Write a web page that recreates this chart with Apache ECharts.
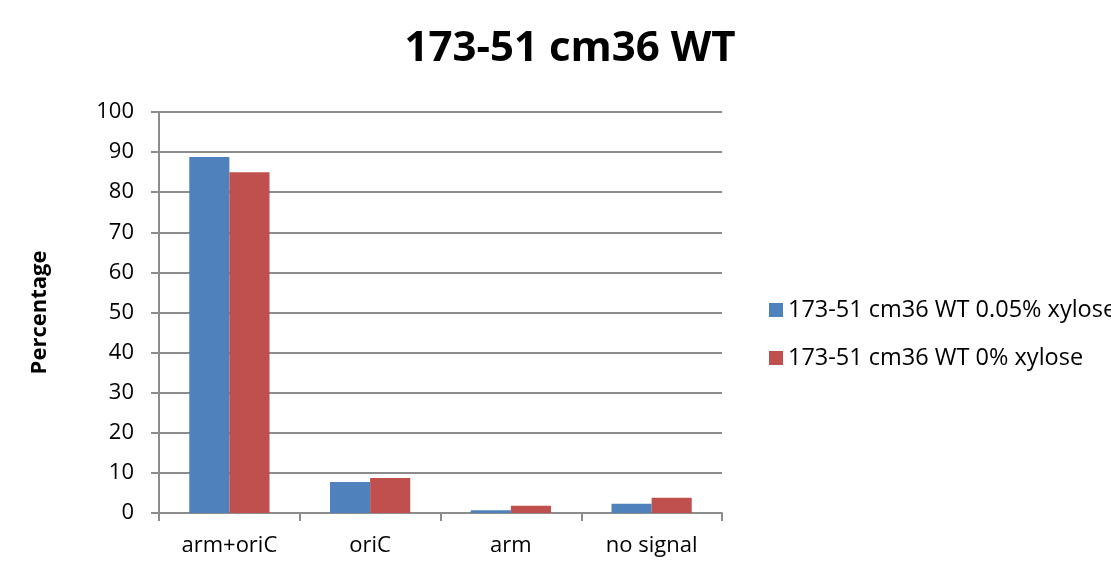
<!DOCTYPE html>
<html>
<head>
<meta charset="utf-8">
<script src="https://cdn.jsdelivr.net/npm/echarts@6/dist/echarts.min.js"></script>
<style>
  html, body { margin: 0; padding: 0; background: #fff; }
  #chart { width: 1111px; height: 566px; }
</style>
</head>
<body>
<div id="chart"></div>
<script>
// Share of cells per signal category, two xylose conditions
const categories = ['arm+oriC', 'oriC', 'arm', 'no signal'];
const seriesNames = ['173-51 cm36 WT 0.05% xylose', '173-51 cm36 WT 0% xylose'];
const withXylose = [88.8, 7.7, 0.7, 2.3];
const withoutXylose = [85.0, 8.7, 1.8, 3.8];
const yTicks = { min: 0, max: 100, interval: 10 };

const FONT = '"Open Sans", "Liberation Sans", sans-serif';
const AXIS_GRAY = '#8c8c8c';

const chart = echarts.init(document.getElementById('chart'), null, { renderer: 'canvas' });

chart.setOption({
  backgroundColor: '#ffffff',
  animation: false,
  title: {
    text: '173-51 cm36 WT',
    left: 565,
    textAlign: 'center',
    top: 23,
    textStyle: { fontFamily: FONT, fontSize: 42, fontWeight: 'bold', color: '#000' }
  },
  legend: {
    orient: 'vertical',
    left: 764,
    top: 293,
    itemWidth: 14,
    itemHeight: 14,
    itemGap: 24,
    icon: 'rect',
    data: seriesNames,
    textStyle: { fontFamily: FONT, fontSize: 23.5, color: '#000', padding: [0, 0, 0, 0] }
  },
  grid: { left: 159, right: 389, top: 112, bottom: 53, containLabel: false },
  xAxis: {
    type: 'category',
    data: categories,
    axisLine: { lineStyle: { color: AXIS_GRAY, width: 2 } },
    axisTick: { show: true, alignWithLabel: false, length: 8, lineStyle: { color: AXIS_GRAY, width: 2 } },
    axisLabel: { fontFamily: FONT, fontSize: 22, color: '#000', margin: 22 }
  },
  yAxis: {
    type: 'value',
    min: yTicks.min,
    max: yTicks.max,
    interval: yTicks.interval,
    name: 'Percentage',
    nameLocation: 'middle',
    nameGap: 108,
    nameTextStyle: { fontFamily: FONT, fontSize: 22, fontWeight: 'bold', color: '#000' },
    axisLine: { show: true, lineStyle: { color: AXIS_GRAY, width: 2 } },
    axisTick: { show: true, length: 8, lineStyle: { color: AXIS_GRAY, width: 2 } },
    axisLabel: { fontFamily: FONT, fontSize: 22, color: '#000', margin: 25 },
    splitLine: { show: true, lineStyle: { color: AXIS_GRAY, width: 2 } }
  },
  series: [
    {
      name: seriesNames[0],
      type: 'bar',
      data: withXylose,
      barGap: '0%',
      barCategoryGap: '43%',
      itemStyle: { color: '#4f81bd' }
    },
    {
      name: seriesNames[1],
      type: 'bar',
      data: withoutXylose,
      barGap: '0%',
      barCategoryGap: '43%',
      itemStyle: { color: '#c0504d' }
    }
  ]
});
</script>
</body>
</html>
